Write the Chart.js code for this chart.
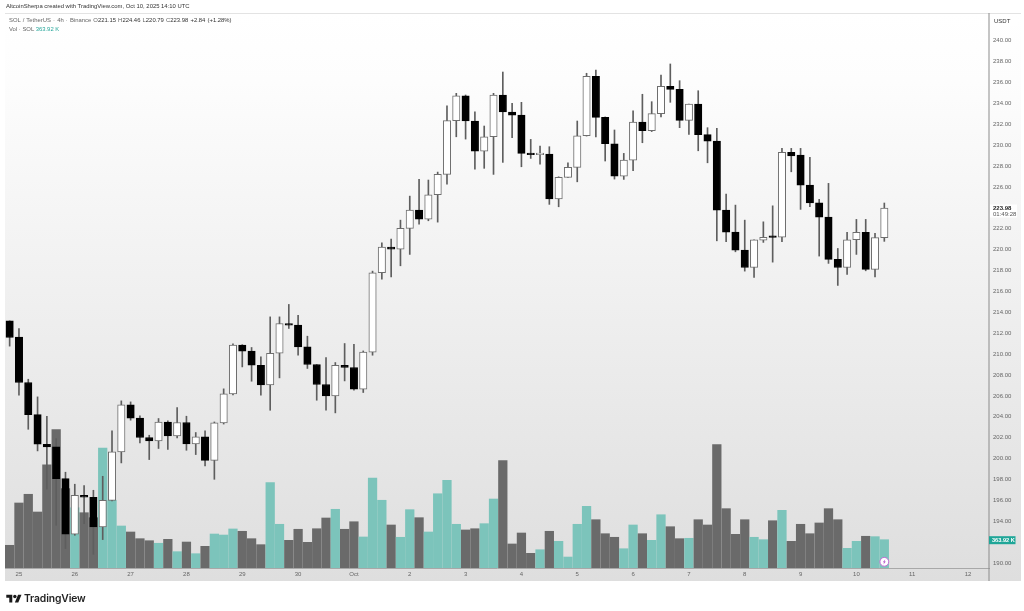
<!DOCTYPE html>
<html><head><meta charset="utf-8">
<style>
html,body{margin:0;padding:0;background:#fff;width:1024px;height:611px;overflow:hidden;font-family:"Liberation Sans",Arial,sans-serif}
#wrap{position:relative;width:1024px;height:611px;filter:blur(.4px)}
canvas{position:absolute;left:0;top:0}
.t{position:absolute;white-space:pre;line-height:1}
.hd{left:6px;top:4px;font-size:5.9px;color:#333}
.l1{left:9px;top:18px;font-size:5.9px;color:#666;word-spacing:.5px}
.l2{left:9px;top:26.5px;font-size:5.9px;color:#666}
.d{color:#333}.g{color:#26a69a}
.tv{left:24px;top:591.5px;font:600 10.3px Inter,Roboto,sans-serif;color:#222;letter-spacing:-.1px}
svg{position:absolute;left:6px;top:592.5px}
</style></head><body><div id="wrap">
<canvas id="c" width="1024" height="611"></canvas>
<div class="t hd">AltcoinSherpa created with TradingView.com, Oct 10, 2025 14:10 UTC</div>
<div class="t l1">SOL / TetherUS · 4h · Binance O<span class="d">221.15</span> H<span class="d">224.46</span> L<span class="d">220.79</span> C<span class="d">223.98</span> <span class="d">+2.84 (+1.28%)</span></div>
<div class="t l2">Vol · SOL <span class="g">363.92 K</span></div>
<svg width="16" height="12" viewBox="0 0 36 28"><path fill="#1a1a1a" d="M14 22H7V11H0V4h14v18zM28 22h-8l7.5-18h8L28 22z"/><circle cx="20" cy="8" r="4" fill="#1a1a1a"/></svg>
<div class="t tv">TradingView</div>
</div>
<script src="https://cdn.jsdelivr.net/npm/chart.js@4/dist/chart.umd.min.js"></script>
<script>
const opens=[213.18,211.62,207.28,204.21,201.35,201.11,198.08,192.75,196.48,196.29,193.45,196,200.63,205.13,203.86,202.01,201.68,203.5,202.16,203.45,201.4,202.07,199.83,203.41,206.19,210.85,210.28,208.93,207.05,210.08,212.93,212.77,210.69,209,207.09,205.99,208.91,208.71,206.64,210.18,217.78,220.24,220.05,222.03,223.78,222.92,225.25,227.2,232.34,234.73,232.31,229.43,230.8,234.8,233.17,232.88,229.21,229.08,229.14,224.86,226.92,227.87,230.9,236.59,232.66,230.13,227.04,228.57,232.21,231.38,233.01,235.63,235.34,232.37,233.94,231,230.39,223.78,221.68,219.95,218.29,220.91,221.19,221.2,229.31,229.05,226.18,224.48,223.11,219.06,218.29,220.94,221.65,218.1,221.15];
const highs=[213.18,212.45,207.59,205.9,204.05,201.91,198.69,197.54,197.41,196.96,198.3,202.64,205.52,205.42,204.08,202.23,203.83,203.6,204.88,204.05,202.49,202.64,203.5,206.67,210.98,210.9,210.63,209.73,213.56,213.56,214.75,213.7,211.71,209,209.67,209.19,211.01,210.92,210.3,217.94,220.65,221,222.82,225.12,226.72,226.66,227.42,233.77,234.96,234.8,233.2,231.83,234.96,237,234,234.1,230.55,229.91,229.85,226.97,228.31,232.31,236.88,237.19,232.7,231.45,229.21,233.29,234.87,234.16,236.71,237.77,236.17,233.94,235.21,231.67,231.61,225.32,224.26,222.82,220.94,222.66,224.19,229.69,229.69,229.69,228.83,224.81,226.34,220.11,221.65,222.89,222.89,221.55,224.46];
const lows=[210.76,206.06,202.8,200.73,197.06,193.61,191.38,192.65,193.77,190.83,192.24,195.95,199.58,203.67,201.49,199.9,200.96,200.86,201.97,200.79,200.38,199.29,198.01,203.3,206.09,208.77,207.4,206.06,204.62,207.72,212.45,209.89,208.62,205.58,204.62,204.37,207.43,206.54,206.32,209.89,217.17,217.39,218.45,219.54,222.44,222.76,222.63,226.27,230.8,230.58,227.71,227.78,227.2,228.35,230.71,227.93,228.73,228.19,224.33,224.1,226.9,226.49,230.87,230.78,228.48,226.75,226.72,227.55,230.23,231.3,232.69,234.1,231.67,231.03,229.46,228.31,220.84,220.75,219.79,217.94,217.34,220.69,218.8,220.75,227.45,223.85,224.1,219.38,218.68,216.57,217.62,219.54,217.97,217.39,220.79];
const closes=[211.59,207.28,204.21,201.37,201.11,198.08,192.75,196.48,196.29,193.45,196,200.63,205.13,203.86,202.01,201.68,203.5,202.16,203.45,201.4,202.07,199.83,203.41,206.19,210.85,210.28,208.93,207.05,210.08,212.93,212.77,210.69,209,207.09,205.99,208.91,208.71,206.64,210.18,217.78,220.24,220.05,222.03,223.78,222.92,225.25,227.2,232.34,234.73,232.31,229.43,230.8,234.8,233.17,232.88,229.21,229.08,229.14,224.86,226.92,227.87,230.9,236.59,232.66,230.13,227.04,228.57,232.21,231.38,233.01,235.63,235.34,232.37,233.94,231,230.39,223.78,221.68,219.95,218.29,220.94,221.17,221.17,229.31,228.98,226.18,224.48,223.11,219.06,218.29,220.94,221.65,218.1,221.15,223.98];
const volumes=[292,836,948,720,1328,1779,1021,775,711,647,1543,871,540,463,377,351,318,369,210,334,184,279,437,424,502,472,377,300,1097,562,356,498,330,505,643,755,498,595,399,1157,871,553,395,750,647,463,955,1128,562,489,505,570,887,1380,309,450,189,235,472,343,141,562,793,621,441,395,248,553,441,356,685,531,377,382,621,553,1586,763,433,621,395,364,608,742,343,562,441,579,763,621,253,343,408,403,363.92];
const dayLabels=['25','26','27','28','29','30','Oct','2','3','4','5','6','7','8','9','10','11','12'];
const priceTicks=[240,238,236,234,232,230,228,226,222,220,218,216,214,212,210,208,206,204,202,200,198,196,194,190];
const axisUnit='USDT';
const lastCountdown='01:49:28';

const idx=opens.map((_,i)=>i);
const isUp=i=>closes[i]>=opens[i];
const volColor=i=>isUp(i)?'#7cc4bb':'#6a6a6a';

const chrome={
  id:'chrome',
  beforeDraw(ch){
    const {ctx}=ch;
    const g=ctx.createLinearGradient(0,13,0,581);
    g.addColorStop(0,'#ffffff');g.addColorStop(.12,'#fdfdfd');g.addColorStop(1,'#dedede');
    ctx.fillStyle=g;ctx.fillRect(5,13,1016,568);
    ctx.fillStyle='#d0d0d0';ctx.fillRect(5,13,1016,.6);
  },
  afterDraw(ch){
    const {ctx,chartArea:a,scales}=ch;
    ctx.save();
    ctx.fillStyle='#8c8c8c';ctx.fillRect(a.right-.5,13,1,568);
    ctx.fillStyle='#fff';ctx.fillRect(a.right+3,17,26,9);
    ctx.fillStyle='#333';ctx.font='6px "Liberation Sans"';ctx.textBaseline='middle';ctx.textAlign='left';
    ctx.fillText(axisUnit,a.right+5,21.5);
    const last=closes.length-1;
    const py=scales.y.getPixelForValue(closes[last]);
    ctx.fillStyle='#fff';ctx.fillRect(a.right+1,py-3.5,27,13);
    ctx.fillStyle='#222';ctx.font='bold 6px "Liberation Sans"';
    ctx.fillText(closes[last].toFixed(2),a.right+4,py+.5);
    ctx.fillStyle='#555';ctx.font='6px "Liberation Sans"';
    ctx.fillText(lastCountdown,a.right+4,py+6.5);
    const vy=scales.v.getPixelForValue(volumes[last]);
    ctx.fillStyle='#1fa698';ctx.fillRect(a.right,vy-3.5,26.5,8);
    ctx.fillStyle='#fff';ctx.font='bold 5.6px "Liberation Sans"';
    ctx.fillText(volumes[last].toFixed(2)+' K',a.right+3,vy+.5);
    const ix=scales.x.getPixelForValue(last), iy=561.8;
    ctx.beginPath();ctx.arc(ix,iy,4.4,0,Math.PI*2);
    ctx.fillStyle='#fff';ctx.fill();ctx.lineWidth=1;ctx.strokeStyle='#c46bd6';ctx.stroke();
    ctx.beginPath();ctx.moveTo(ix+1,iy-2.6);ctx.lineTo(ix-1.5,iy+.4);ctx.lineTo(ix-.1,iy+.4);ctx.lineTo(ix-1,iy+2.6);ctx.lineTo(ix+1.5,iy-.4);ctx.lineTo(ix+.1,iy-.4);ctx.closePath();
    ctx.fillStyle='#b04cc8';ctx.fill();
    ctx.restore();
  }
};

new Chart(document.getElementById('c'),{
  type:'bar',
  data:{datasets:[
    {label:'Vol',yAxisID:'v',order:3,grouped:false,barThickness:8.6,
     data:idx.map(i=>({x:i,y:volumes[i]})),
     backgroundColor:idx.map(volColor),borderWidth:0},
    {label:'Wick',yAxisID:'y',order:2,grouped:false,barThickness:1,
     data:idx.map(i=>({x:i,y:[lows[i],highs[i]]})),
     backgroundColor:'#5e5e5e',borderWidth:0},
    {label:'Body',yAxisID:'y',order:1,grouped:false,barThickness:7.4,minBarLength:1.6,
     data:idx.map(i=>({x:i,y:[opens[i],closes[i]]})),
     backgroundColor:idx.map(i=>isUp(i)?'#ffffff':'#000000'),
     borderColor:idx.map(i=>isUp(i)?'#6e6e6e':'#000000'),
     borderWidth:1,borderSkipped:false}
  ]},
  options:{
    responsive:false,animation:false,
    layout:{padding:{left:5,right:0,top:13,bottom:30}},
    plugins:{legend:{display:false},title:{display:false},tooltip:{enabled:false}},
    scales:{
      x:{type:'linear',min:-0.5,max:105.25,offset:false,
        grid:{display:false,drawTicks:false},
        border:{display:true,color:'#a8a8a8',width:1},
        afterBuildTicks(s){s.ticks=dayLabels.map((_,k)=>({value:1+6*k}));},
        afterFit(s){s.height=13;},
        ticks:{autoSkip:false,maxRotation:0,padding:3,color:'#666',font:{size:6,family:'"Liberation Sans"'},
          callback:v=>dayLabels[Math.round((v-1)/6)]}},
      y:{position:'right',min:189.52,max:242.65,
        grid:{display:false,drawTicks:false},
        border:{display:false},
        afterBuildTicks(s){s.ticks=priceTicks.map(v=>({value:v}));},
        afterFit(s){s.width=35;},
        ticks:{autoSkip:false,padding:4,color:'#666',font:{size:6,family:'"Liberation Sans"'},
          callback:v=>Number(v).toFixed(2)}},
      v:{display:false,position:'left',min:0,max:7137}
    }
  },
  plugins:[chrome]
});
</script></body></html>
